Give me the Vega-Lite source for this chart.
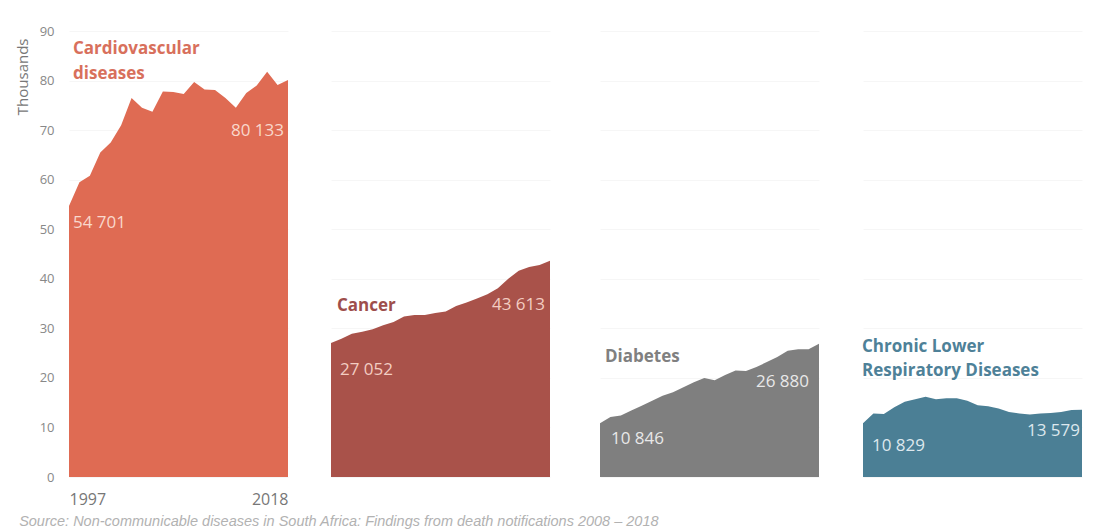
{
  "$schema": "https://vega.github.io/schema/vega-lite/v6.json",
  "padding": {"left": 15, "top": 25, "right": 5, "bottom": 5},
  "background": "white",
  "data": {"values": [
    {"disease": "Cardiovascular diseases", "year": 1997, "deaths": 54701},
    {"disease": "Cardiovascular diseases", "year": 1998, "deaths": 59500},
    {"disease": "Cardiovascular diseases", "year": 1999, "deaths": 60800},
    {"disease": "Cardiovascular diseases", "year": 2000, "deaths": 65500},
    {"disease": "Cardiovascular diseases", "year": 2001, "deaths": 67500},
    {"disease": "Cardiovascular diseases", "year": 2002, "deaths": 71000},
    {"disease": "Cardiovascular diseases", "year": 2003, "deaths": 76500},
    {"disease": "Cardiovascular diseases", "year": 2004, "deaths": 74500},
    {"disease": "Cardiovascular diseases", "year": 2005, "deaths": 73700},
    {"disease": "Cardiovascular diseases", "year": 2006, "deaths": 77800},
    {"disease": "Cardiovascular diseases", "year": 2007, "deaths": 77700},
    {"disease": "Cardiovascular diseases", "year": 2008, "deaths": 77300},
    {"disease": "Cardiovascular diseases", "year": 2009, "deaths": 79700},
    {"disease": "Cardiovascular diseases", "year": 2010, "deaths": 78200},
    {"disease": "Cardiovascular diseases", "year": 2011, "deaths": 78100},
    {"disease": "Cardiovascular diseases", "year": 2012, "deaths": 76500},
    {"disease": "Cardiovascular diseases", "year": 2013, "deaths": 74500},
    {"disease": "Cardiovascular diseases", "year": 2014, "deaths": 77500},
    {"disease": "Cardiovascular diseases", "year": 2015, "deaths": 79000},
    {"disease": "Cardiovascular diseases", "year": 2016, "deaths": 81800},
    {"disease": "Cardiovascular diseases", "year": 2017, "deaths": 79100},
    {"disease": "Cardiovascular diseases", "year": 2018, "deaths": 80133},
    {"disease": "Cancer", "year": 1997, "deaths": 27052},
    {"disease": "Cancer", "year": 1998, "deaths": 27900},
    {"disease": "Cancer", "year": 1999, "deaths": 28900},
    {"disease": "Cancer", "year": 2000, "deaths": 29300},
    {"disease": "Cancer", "year": 2001, "deaths": 29800},
    {"disease": "Cancer", "year": 2002, "deaths": 30600},
    {"disease": "Cancer", "year": 2003, "deaths": 31300},
    {"disease": "Cancer", "year": 2004, "deaths": 32400},
    {"disease": "Cancer", "year": 2005, "deaths": 32700},
    {"disease": "Cancer", "year": 2006, "deaths": 32700},
    {"disease": "Cancer", "year": 2007, "deaths": 33100},
    {"disease": "Cancer", "year": 2008, "deaths": 33400},
    {"disease": "Cancer", "year": 2009, "deaths": 34500},
    {"disease": "Cancer", "year": 2010, "deaths": 35200},
    {"disease": "Cancer", "year": 2011, "deaths": 36000},
    {"disease": "Cancer", "year": 2012, "deaths": 36900},
    {"disease": "Cancer", "year": 2013, "deaths": 38100},
    {"disease": "Cancer", "year": 2014, "deaths": 40000},
    {"disease": "Cancer", "year": 2015, "deaths": 41600},
    {"disease": "Cancer", "year": 2016, "deaths": 42400},
    {"disease": "Cancer", "year": 2017, "deaths": 42800},
    {"disease": "Cancer", "year": 2018, "deaths": 43613},
    {"disease": "Diabetes", "year": 1997, "deaths": 10846},
    {"disease": "Diabetes", "year": 1998, "deaths": 12100},
    {"disease": "Diabetes", "year": 1999, "deaths": 12400},
    {"disease": "Diabetes", "year": 2000, "deaths": 13400},
    {"disease": "Diabetes", "year": 2001, "deaths": 14400},
    {"disease": "Diabetes", "year": 2002, "deaths": 15400},
    {"disease": "Diabetes", "year": 2003, "deaths": 16400},
    {"disease": "Diabetes", "year": 2004, "deaths": 17100},
    {"disease": "Diabetes", "year": 2005, "deaths": 18100},
    {"disease": "Diabetes", "year": 2006, "deaths": 19100},
    {"disease": "Diabetes", "year": 2007, "deaths": 20000},
    {"disease": "Diabetes", "year": 2008, "deaths": 19500},
    {"disease": "Diabetes", "year": 2009, "deaths": 20600},
    {"disease": "Diabetes", "year": 2010, "deaths": 21500},
    {"disease": "Diabetes", "year": 2011, "deaths": 21400},
    {"disease": "Diabetes", "year": 2012, "deaths": 22200},
    {"disease": "Diabetes", "year": 2013, "deaths": 23200},
    {"disease": "Diabetes", "year": 2014, "deaths": 24200},
    {"disease": "Diabetes", "year": 2015, "deaths": 25500},
    {"disease": "Diabetes", "year": 2016, "deaths": 25800},
    {"disease": "Diabetes", "year": 2017, "deaths": 25800},
    {"disease": "Diabetes", "year": 2018, "deaths": 26880},
    {"disease": "Chronic Lower Respiratory Diseases", "year": 1997, "deaths": 10829},
    {"disease": "Chronic Lower Respiratory Diseases", "year": 1998, "deaths": 12800},
    {"disease": "Chronic Lower Respiratory Diseases", "year": 1999, "deaths": 12700},
    {"disease": "Chronic Lower Respiratory Diseases", "year": 2000, "deaths": 14100},
    {"disease": "Chronic Lower Respiratory Diseases", "year": 2001, "deaths": 15200},
    {"disease": "Chronic Lower Respiratory Diseases", "year": 2002, "deaths": 15700},
    {"disease": "Chronic Lower Respiratory Diseases", "year": 2003, "deaths": 16200},
    {"disease": "Chronic Lower Respiratory Diseases", "year": 2004, "deaths": 15700},
    {"disease": "Chronic Lower Respiratory Diseases", "year": 2005, "deaths": 15900},
    {"disease": "Chronic Lower Respiratory Diseases", "year": 2006, "deaths": 15900},
    {"disease": "Chronic Lower Respiratory Diseases", "year": 2007, "deaths": 15400},
    {"disease": "Chronic Lower Respiratory Diseases", "year": 2008, "deaths": 14500},
    {"disease": "Chronic Lower Respiratory Diseases", "year": 2009, "deaths": 14300},
    {"disease": "Chronic Lower Respiratory Diseases", "year": 2010, "deaths": 13800},
    {"disease": "Chronic Lower Respiratory Diseases", "year": 2011, "deaths": 13100},
    {"disease": "Chronic Lower Respiratory Diseases", "year": 2012, "deaths": 12800},
    {"disease": "Chronic Lower Respiratory Diseases", "year": 2013, "deaths": 12600},
    {"disease": "Chronic Lower Respiratory Diseases", "year": 2014, "deaths": 12800},
    {"disease": "Chronic Lower Respiratory Diseases", "year": 2015, "deaths": 12900},
    {"disease": "Chronic Lower Respiratory Diseases", "year": 2016, "deaths": 13100},
    {"disease": "Chronic Lower Respiratory Diseases", "year": 2017, "deaths": 13500},
    {"disease": "Chronic Lower Respiratory Diseases", "year": 2018, "deaths": 13579}
  ]},
  "title": {
    "text": "Source: Non-communicable diseases in South Africa: Findings from death notifications 2008 – 2018",
    "orient": "bottom", "anchor": "start", "offset": 8, "dx": 4,
    "font": "Liberation Sans", "fontStyle": "italic", "fontWeight": "normal",
    "fontSize": 14.5, "color": "#b2b2b2"
  },
  "spacing": 43,
  "hconcat": [
    {
      "width": 219, "height": 446,
      "transform": [{"filter": "datum.disease === 'Cardiovascular diseases'"}],
      "encoding": {
        "x": {"field": "year", "type": "quantitative",
          "scale": {"domain": [1997, 2018], "nice": false, "zero": false},
          "axis": {"values": [1997, 2018], "format": "d", "labelFlush": true, "domain": false, "ticks": false, "grid": false, "title": null,
            "labelFontSize": 16, "labelColor": "#777777", "labelPadding": 14, "labelFont": "Open Sans"}}
      },
      "layer": [
        {"mark": {"type": "area", "color": "#df6b53", "opacity": 1},
         "encoding": {"y": {"field": "deaths", "type": "quantitative",
           "scale": {"domain": [0, 90000], "nice": false},
           "axis": {"values": [0, 10000, 20000, 30000, 40000, 50000, 60000, 70000, 80000, 90000],
             "labelExpr": "datum.value / 1000", "title": "Thousands", "titleAnchor": "end", "titleAlign": "right", "titleY": 7,
             "domain": false, "ticks": false,
             "grid": true, "gridColor": "#f6f6f6", "labelPadding": 15, "labelFontSize": 13, "labelColor": "#888888",
             "labelFont": "Open Sans", "titleFont": "Open Sans", "titleFontSize": 15, "titleFontWeight": "normal",
             "titleColor": "#777777", "titlePadding": 9}}}},
        {"transform": [{"filter": "datum.year === 1997"}],
         "mark": {"type": "text", "align": "left", "baseline": "middle", "dx": 4, "fontSize": 17, "font": "Open Sans", "color": "#f9d8cc"},
         "encoding": {"y": {"datum": 51300}, "text": {"field": "deaths", "type": "quantitative", "format": ","}}},
        {"transform": [{"filter": "datum.year === 2018"}],
         "mark": {"type": "text", "align": "right", "baseline": "middle", "dx": -4, "fontSize": 17, "font": "Open Sans", "color": "#f9d8cc"},
         "encoding": {"y": {"datum": 69900}, "text": {"field": "deaths", "type": "quantitative", "format": ","}}},
        {"transform": [{"filter": "datum.year === 1997"}],
         "mark": {"type": "text", "align": "left", "baseline": "middle", "dx": 4, "fontSize": 17, "fontWeight": "bold", "font": "Open Sans", "color": "#d8705c", "lineHeight": 25,
           "text": ["Cardiovascular", "diseases"]},
         "encoding": {"y": {"datum": 86400}}}
      ]
    },
    {
      "spacing": 50,
      "hconcat": [
        {
          "width": 219, "height": 446,
          "transform": [{"filter": "datum.disease === 'Cancer'"}],
          "encoding": {
            "x": {"field": "year", "type": "quantitative", "scale": {"domain": [1997, 2018], "nice": false, "zero": false}, "axis": null}
          },
          "layer": [
            {"mark": {"type": "area", "color": "#a9524a", "opacity": 1},
             "encoding": {"y": {"field": "deaths", "type": "quantitative", "scale": {"domain": [0, 90000], "nice": false},
               "axis": {"values": [0, 10000, 20000, 30000, 40000, 50000, 60000, 70000, 80000, 90000], "labels": false, "ticks": false, "domain": false, "title": null, "grid": true, "gridColor": "#f6f6f6"}}}},
            {"transform": [{"filter": "datum.year === 1997"}],
             "mark": {"type": "text", "align": "left", "baseline": "middle", "dx": 9, "fontSize": 17, "font": "Open Sans", "color": "#f3cdc2"},
             "encoding": {"y": {"datum": 21500}, "text": {"field": "deaths", "type": "quantitative", "format": ","}}},
            {"transform": [{"filter": "datum.year === 2018"}],
             "mark": {"type": "text", "align": "right", "baseline": "middle", "dx": -5, "fontSize": 17, "font": "Open Sans", "color": "#f3cdc2"},
             "encoding": {"y": {"datum": 34800}, "text": {"field": "deaths", "type": "quantitative", "format": ","}}},
            {"transform": [{"filter": "datum.year === 1997"}],
             "mark": {"type": "text", "align": "left", "baseline": "middle", "dx": 6, "fontSize": 17, "fontWeight": "bold", "font": "Open Sans", "color": "#9e4e4b", "text": "Cancer"},
             "encoding": {"y": {"datum": 34600}}}
          ]
        },
        {
          "width": 219, "height": 446,
          "transform": [{"filter": "datum.disease === 'Diabetes'"}],
          "encoding": {
            "x": {"field": "year", "type": "quantitative", "scale": {"domain": [1997, 2018], "nice": false, "zero": false}, "axis": null}
          },
          "layer": [
            {"mark": {"type": "area", "color": "#7f7f7f", "opacity": 1},
             "encoding": {"y": {"field": "deaths", "type": "quantitative", "scale": {"domain": [0, 90000], "nice": false},
               "axis": {"values": [0, 10000, 20000, 30000, 40000, 50000, 60000, 70000, 80000, 90000], "labels": false, "ticks": false, "domain": false, "title": null, "grid": true, "gridColor": "#f6f6f6"}}}},
            {"transform": [{"filter": "datum.year === 1997"}],
             "mark": {"type": "text", "align": "left", "baseline": "middle", "dx": 11, "fontSize": 17, "font": "Open Sans", "color": "#e8e8e8"},
             "encoding": {"y": {"datum": 7600}, "text": {"field": "deaths", "type": "quantitative", "format": ","}}},
            {"transform": [{"filter": "datum.year === 2018"}],
             "mark": {"type": "text", "align": "right", "baseline": "middle", "dx": -10, "fontSize": 17, "font": "Open Sans", "color": "#e8e8e8"},
             "encoding": {"y": {"datum": 19200}, "text": {"field": "deaths", "type": "quantitative", "format": ","}}},
            {"transform": [{"filter": "datum.year === 1997"}],
             "mark": {"type": "text", "align": "left", "baseline": "middle", "dx": 5, "fontSize": 17, "fontWeight": "bold", "font": "Open Sans", "color": "#808080", "text": "Diabetes"},
             "encoding": {"y": {"datum": 24300}}}
          ]
        }
      ]
    },
    {
      "width": 219, "height": 446,
      "transform": [{"filter": "datum.disease === 'Chronic Lower Respiratory Diseases'"}],
      "encoding": {
        "x": {"field": "year", "type": "quantitative", "scale": {"domain": [1997, 2018], "nice": false, "zero": false}, "axis": null}
      },
      "layer": [
        {"mark": {"type": "area", "color": "#4b7f95", "opacity": 1},
         "encoding": {"y": {"field": "deaths", "type": "quantitative", "scale": {"domain": [0, 90000], "nice": false},
           "axis": {"values": [0, 10000, 20000, 30000, 40000, 50000, 60000, 70000, 80000, 90000], "labels": false, "ticks": false, "domain": false, "title": null, "grid": true, "gridColor": "#f6f6f6"}}}},
        {"transform": [{"filter": "datum.year === 1997"}],
         "mark": {"type": "text", "align": "left", "baseline": "middle", "dx": 9, "fontSize": 17, "font": "Open Sans", "color": "#dde8ee"},
         "encoding": {"y": {"datum": 6300}, "text": {"field": "deaths", "type": "quantitative", "format": ","}}},
        {"transform": [{"filter": "datum.year === 2018"}],
         "mark": {"type": "text", "align": "right", "baseline": "middle", "dx": -2, "fontSize": 17, "font": "Open Sans", "color": "#dde8ee"},
         "encoding": {"y": {"datum": 9300}, "text": {"field": "deaths", "type": "quantitative", "format": ","}}},
        {"transform": [{"filter": "datum.year === 1997"}],
         "mark": {"type": "text", "align": "left", "baseline": "middle", "dx": -1, "fontSize": 17, "fontWeight": "bold", "font": "Open Sans", "color": "#4e8198", "lineHeight": 24,
           "text": ["Chronic Lower", "Respiratory Diseases"]},
         "encoding": {"y": {"datum": 26300}}}
      ]
    }
  ],
  "config": {
    "view": {"stroke": null},
    "locale": {"number": {"decimal": ".", "thousands": " ", "grouping": [3], "currency": ["", ""]}}
  }
}
